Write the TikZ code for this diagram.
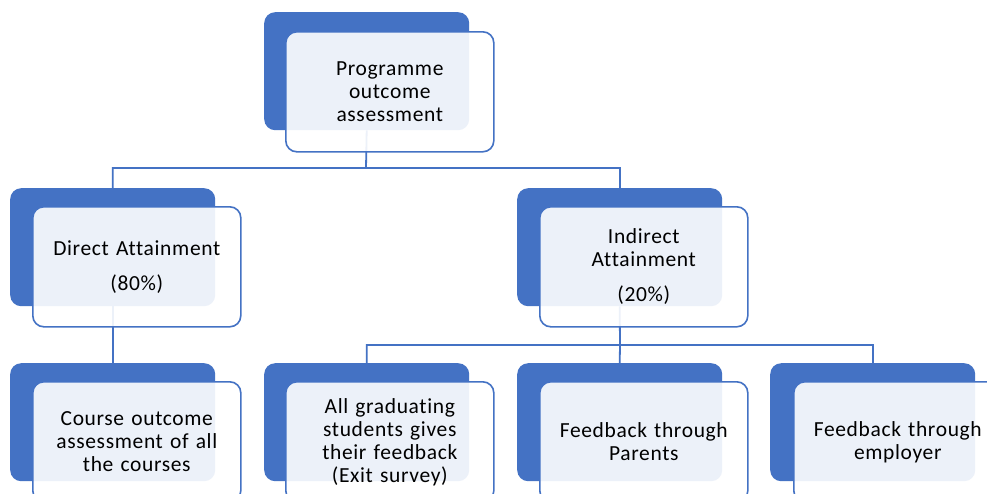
\documentclass[tikz,border=0pt]{standalone}
\usepackage{fontspec}
\setmainfont{Carlito}[Ligatures=NoCommon, LetterSpace=3]
\definecolor{accent}{HTML}{4472C4}
\begin{document}
\begin{tikzpicture}[x=1pt,y=-1pt,
  backbox/.style={fill=accent, draw=none, rounded corners=11pt, minimum width=205pt, minimum height=118pt, anchor=north west, inner sep=0pt},
  frontbox/.style={fill=white, fill opacity=0.9, text opacity=1, draw=accent, line width=1.6pt, rounded corners=11pt, minimum width=208pt, minimum height=120pt, anchor=north west, inner sep=0pt, align=center, text width=200pt, font=\fontsize{21.5pt}{23pt}\selectfont},
  conn/.style={draw=accent, line width=1.8pt}]
\clip (0,0) rectangle (987,493);
\fill[white] (0,0) rectangle (987,493);
% back boxes
\node[backbox] (topb) at (264,12) {};
\node[backbox] (dab) at (10,188) {};
\node[backbox] (iab) at (517,188) {};
\node[backbox] (c1b) at (10,363) {};
\node[backbox] (c2b) at (264,363) {};
\node[backbox] (c3b) at (517,363) {};
\node[backbox] (c4b) at (770,363) {};
% connectors
\coordinate (bus1) at (366,168);
\coordinate (bus2) at (620,345);
\draw[conn] (topb.south) -- (bus1) -| (dab.north);
\draw[conn] (bus1) -| (iab.north);
\draw[conn] (dab.south) -- (c1b.north);
\draw[conn] (iab.south) -- (bus2) -| (c2b.north);
\draw[conn] (bus2) -| (c4b.north);
\draw[conn] (bus2) -- (c3b.north);
% front boxes
\node[frontbox] (top) at (285,31) {Programme\\outcome\\assessment};
\node[frontbox] (da) at (32,206) {Direct Attainment\\[12pt](80\%)};
\node[frontbox] (ia) at (539,206) {Indirect\\Attainment\\[12pt](20\%)};
\node[frontbox] (c1) at (32,381) {Course outcome\\assessment of all\\the courses};
\node[frontbox] (c2) at (285,381) {All graduating\\students gives\\their feedback\\(Exit survey)};
\node[frontbox] (c3) at (539,381) {Feedback through\\Parents};
\node[frontbox] (c4) at (793,381) {Feedback through\\employer};
\end{tikzpicture}
\end{document}
